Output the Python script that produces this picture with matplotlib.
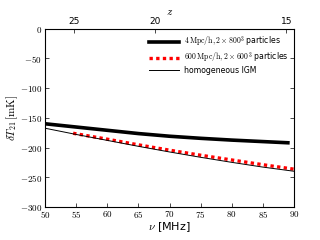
import numpy as np
import matplotlib
matplotlib.use("Agg")
import matplotlib.pyplot as plt
from matplotlib.ticker import FuncFormatter

plt.rcParams["mathtext.fontset"] = "cm"

# values (frequency in MHz, brightness in mK)
nu_small = [50, 55, 60, 65, 70, 75, 80, 85, 89]
dT_small = [-160, -165.5, -171, -176.5, -181, -184.5, -187.5, -190, -192]

nu_big = [54.5, 60, 65, 70, 75, 80, 85, 90]
dT_big = [-176, -186, -195.5, -204.5, -213, -221, -229, -236.5]

nu_homog = [50, 55, 60, 65, 70, 75, 80, 85, 90]
dT_homog = [-167.5, -178, -188, -198, -207.5, -216.5, -225, -233, -240]

z_ticks = [25, 20, 15]

fig = plt.figure(figsize=(3.2, 2.4), dpi=100)
ax = fig.add_axes([0.141, 0.138, 0.778, 0.742])

ax.plot(nu_small, dT_small, color="black", lw=2.6,
        label=r"$4\,\mathrm{Mpc/h}, 2\times800^3$ particles")
ax.plot(nu_big, dT_big, color="red", lw=2.4, ls=(0, (1, 1)),
        label=r"$600\,\mathrm{Mpc/h}, 2\times600^3$ particles")
ax.plot(nu_homog, dT_homog, color="black", lw=0.7, label="homogeneous IGM")

ax.set_xlim(50, 90)
ax.set_ylim(-300, 0)
ax.set_xticks(np.arange(50, 91, 5))
ax.set_yticks(np.arange(-300, 1, 50))
ax.xaxis.set_major_formatter(FuncFormatter(lambda v, p: r"$%d$" % v))
ax.yaxis.set_major_formatter(FuncFormatter(lambda v, p: r"$%d$" % v))
ax.tick_params(labelsize=6.5, direction="in", length=3, width=0.5, right=True)
ax.tick_params(axis="x", pad=1.8)
ax.tick_params(axis="y", pad=2.2)
for s in ax.spines.values():
    s.set_linewidth(0.6)
ax.set_xlabel(r"$\nu$ [MHz]", fontsize=8, labelpad=0)
ax.set_ylabel(r"$\delta T_{21}\,[\mathrm{mK}]$", fontsize=8, labelpad=0)

# top axis in redshift
top = ax.twiny()
top.set_xlim(ax.get_xlim())
top.set_xticks([1420.4 / (1 + z) for z in z_ticks])
top.set_xticklabels([str(z) for z in z_ticks])
top.tick_params(labelsize=6.5, direction="in", length=3, width=0.5, pad=2)
top.set_xlabel(r"$z$", fontsize=8)
top.xaxis.set_label_coords(0.502, 1.075)

leg = ax.legend(loc="upper right", frameon=False, fontsize=5.6,
                handlelength=3.9, borderaxespad=0.35, labelspacing=0.12,
                handletextpad=0.6)

fig.savefig("out.png", dpi=100)
